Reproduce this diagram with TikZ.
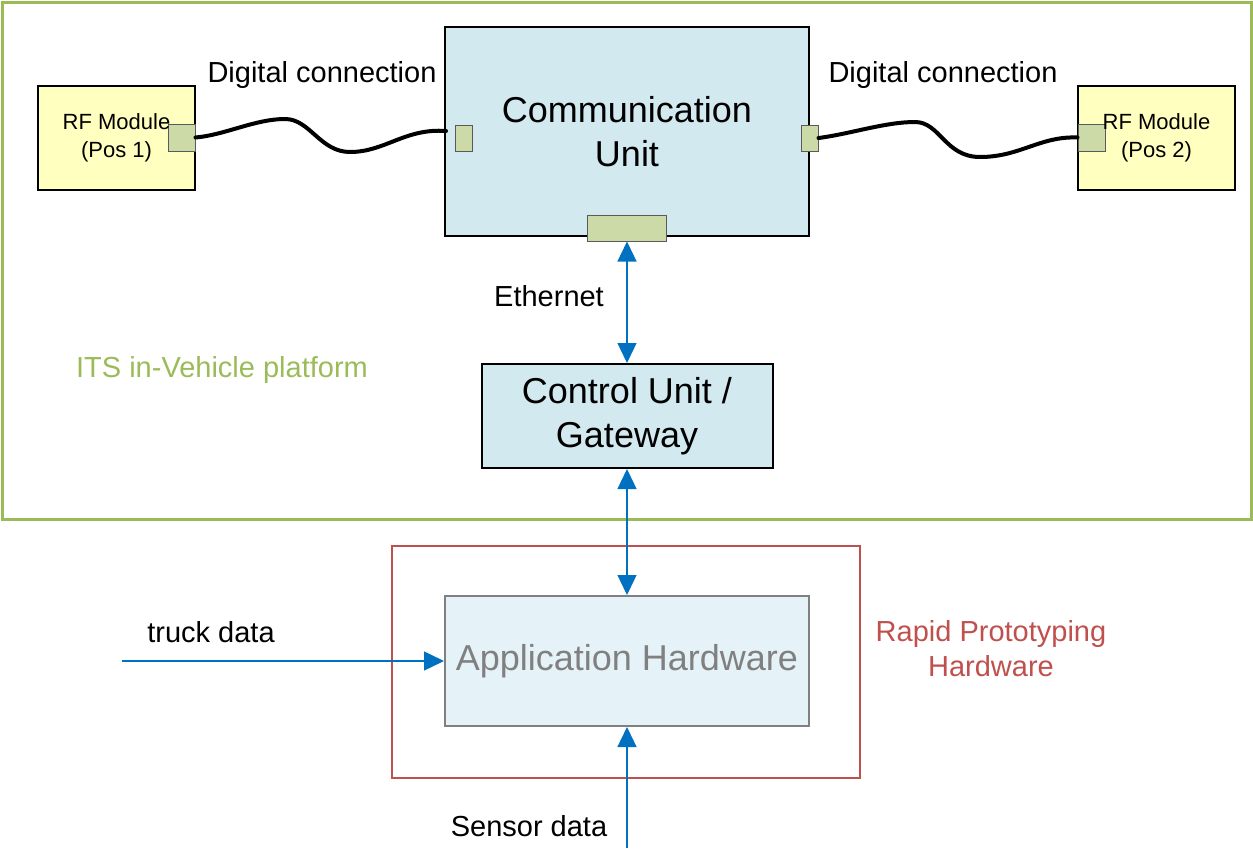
\documentclass[tikz,border=0pt]{standalone}
\usepackage{fontspec}
\setmainfont{Liberation Sans}
\usetikzlibrary{arrows.meta}
\definecolor{itsgreen}{RGB}{155,187,89}
\definecolor{rapidred}{RGB}{192,80,77}
\definecolor{unitblue}{RGB}{211,233,240}
\definecolor{appblue}{RGB}{229,243,248}
\definecolor{appgray}{RGB}{128,128,128}
\definecolor{portgreen}{RGB}{204,218,168}
\definecolor{portgray}{RGB}{90,90,90}
\definecolor{rfyellow}{RGB}{255,255,192}
\definecolor{linkblue}{RGB}{0,112,192}
\begin{document}
\begin{tikzpicture}[x=0.5pt,y=-0.5pt,
    unitbox/.style={draw=black,line width=1pt,fill=unitblue,inner sep=0pt,align=center,
      font=\fontsize{18}{22}\selectfont},
    rfbox/.style={draw=black,line width=1pt,fill=rfyellow,inner sep=0pt,
      minimum width=78.5pt,minimum height=52pt},
    rftext/.style={align=center,inner sep=0pt,font=\fontsize{11}{14}\selectfont},
    port/.style={draw=portgray,line width=0.5pt,fill=portgreen,inner sep=0pt},
    label/.style={inner sep=0pt,font=\fontsize{14.5}{17.5}\selectfont,align=center},
    cable/.style={line width=2pt,line cap=round},
    bluetip/.tip={Triangle[length=10pt,width=9.5pt,fill=linkblue]},
    bluelink/.style={draw=linkblue,line width=0.65pt,-bluetip},
    twoway/.style={bluelink,bluetip-bluetip},
  ]
  \useasboundingbox (0,0) rectangle (1253,851);

  \draw[itsgreen,line width=1.5pt] (2,2) rectangle (1251,519);
  \draw[rapidred,line width=1pt] (392,546) rectangle (860,778);

  \node[unitbox,minimum width=182pt,minimum height=104.5pt] (comm) at (627,131.5)
    {Communication\\Unit};
  \node[port,minimum width=8.5pt,minimum height=13pt] (commL) at (463.5,138) {};
  \node[port,minimum width=8.5pt,minimum height=13pt] (commR) at (809.5,138) {};
  \node[port,minimum width=39.5pt,minimum height=13pt] (commB) at (627,228) {};

  \node[rfbox] (rf1) at (116.5,138) {};
  \node[port,minimum size=13.5pt] (rf1port) at (181.5,137.5) {};
  \node[rftext] (rf1txt) at (rf1) {RF Module\\(Pos 1)};
  \node[rfbox] (rf2) at (1156.5,138) {};
  \node[port,minimum size=13.5pt] (rf2port) at (1091.5,137.5) {};
  \node[rftext] (rf2txt) at (rf2) {RF Module\\(Pos 2)};

  \node[unitbox,minimum width=145.5pt,minimum height=52pt] (ctrl) at (627,416)
    {Control Unit /\\Gateway};
  \node[draw=appgray,line width=1pt,fill=appblue,text=appgray,inner sep=0pt,
    minimum width=182pt,minimum height=65pt,font=\fontsize{18}{22}\selectfont]
    (app) at (627,661) {Application Hardware};

  \coordinate (commin) at (446,131);
  \draw[cable] (rf1port.east) .. controls (225,135) and (255,119) .. (285,119)
    .. controls (310,119) and (320,152) .. (350,152)
    .. controls (385,152) and (405,128) .. (commin);
  \draw[cable] (commR.east) .. controls (850,134) and (885,122) .. (915,122)
    .. controls (940,122) and (945,157) .. (980,157)
    .. controls (1020,157) and (1040,136) .. (rf2port.west);

  \draw[twoway] (commB.south) -- (ctrl.north);
  \draw[twoway] (ctrl.south) -- (app.north);
  \coordinate (truckin) at (122,661);
  \coordinate (sensorin) at (627,848);
  \draw[bluelink] (truckin) -- (app.west);
  \draw[bluelink] (sensorin) -- (app.south);

  \node[label] (dig1) at (322,75) {Digital connection};
  \node[label] (dig2) at (943,75) {Digital connection};
  \node[label] (eth) at (549,296) {Ethernet};
  \node[label,text=itsgreen] (its) at (222,370) {ITS in-Vehicle platform};
  \node[label,text=rapidred] (rapid) at (991,649) {Rapid Prototyping\\Hardware};
  \node[label] (truck) at (211,632) {truck data};
  \node[label] (sensor) at (529,826) {Sensor data};
\end{tikzpicture}
\end{document}
